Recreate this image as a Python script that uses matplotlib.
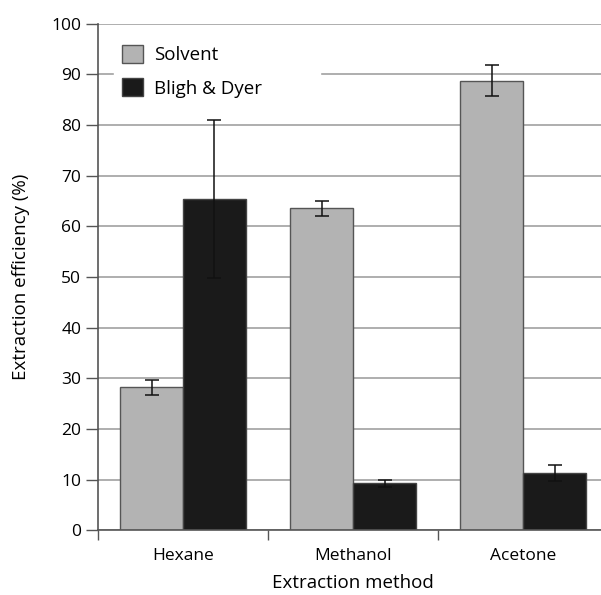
import matplotlib.pyplot as plt
import numpy as np

plt.rcParams['font.family'] = ['Open Sans', 'DejaVu Sans']

# data
methods = ['Hexane', 'Methanol', 'Acetone']
solvent = [28.2, 63.6, 88.8]
solvent_err = [1.5, 1.5, 3.1]
bligh_dyer = [65.4, 9.3, 11.3]
bligh_dyer_err = [15.6, 0.7, 1.5]

x = np.arange(len(methods))
w = 0.37

fig = plt.figure(figsize=(6.01, 5.95), dpi=100)
ax = fig.add_axes([0.163, 0.109, 0.849, 0.851])

ax.set_axisbelow(True)
ax.yaxis.grid(True, color='#a8a8a8', linewidth=1.3)

ax.bar(x - w / 2, solvent, w, color='#b3b3b3', edgecolor='#555555',
       linewidth=1, label='Solvent')
ax.bar(x + w / 2, bligh_dyer, w, color='#1a1a1a', edgecolor='#444444',
       linewidth=1, label='Bligh & Dyer')
ax.errorbar(x - w / 2, solvent, yerr=solvent_err, fmt='none', ecolor='#111111',
            elinewidth=1.1, capsize=5, capthick=1.1)
ax.errorbar(x + w / 2, bligh_dyer, yerr=bligh_dyer_err, fmt='none', ecolor='#111111',
            elinewidth=1.1, capsize=5, capthick=1.1)

ax.set_ylim(0, 100)
ax.set_xlim(-0.5, 2.5)
ax.set_yticks(np.arange(0, 101, 10))
ax.set_xticks(x)
ax.set_xticklabels(methods)
ax.set_xticks([-0.5, 0.5, 1.5], minor=True)
ax.tick_params(axis='x', which='major', length=0, pad=13, labelsize=12.5)
ax.tick_params(axis='x', which='minor', length=7, width=1, color='#555555', direction='out')
ax.tick_params(axis='y', length=9, width=1, color='#555555', labelsize=12.5, pad=3)

for s in ['top', 'right']:
    ax.spines[s].set_visible(False)
ax.spines['left'].set_color('#555555')
ax.spines['bottom'].set_color('#555555')
ax.spines['left'].set_linewidth(1.2)
ax.spines['bottom'].set_linewidth(1.2)

ax.set_xlabel('Extraction method', fontsize=13.5, labelpad=7)
ax.set_ylabel('Extraction efficiency (%)', fontsize=13.5, labelpad=15)

leg = ax.legend(loc='upper left', bbox_to_anchor=(0.014, 0.992, 0.44, 0.0), mode='expand',
                frameon=True, fontsize=13.5, handlelength=1.1, handleheight=1.1,
                labelspacing=0.75, borderpad=0.4, handletextpad=0.6, fancybox=False)
leg.get_frame().set_edgecolor('white')
leg.get_frame().set_facecolor('white')
leg.get_frame().set_alpha(1)

fig.savefig('out.png', dpi=100)
